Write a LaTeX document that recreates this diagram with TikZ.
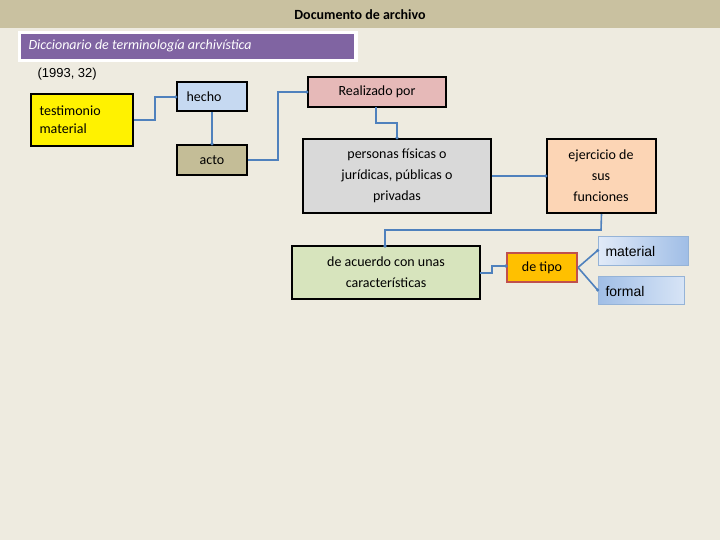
\documentclass[tikz,border=0pt]{standalone}
\usepackage{fontspec}
\setmainfont{Carlito}
\newfontfamily\arial{Liberation Sans}
\begin{document}
\begin{tikzpicture}[x=1pt,y=-1pt,
 bx/.style={draw=black,line width=2.2pt,inner sep=0pt,align=center,font=\fontsize{14}{18}\selectfont},
 cn/.style={draw=blue!35!gray!90!black,color={rgb,255:red,79;green,129;blue,189},line width=1.6pt},
 dt/.style={circle,fill={rgb,255:red,79;green,129;blue,189},inner sep=1.3pt}]
\definecolor{lb}{RGB}{79,129,189}
\fill[color={rgb,255:red,238;green,235;blue,224}] (0,0) rectangle (720,540);
\fill[color={rgb,255:red,201;green,193;blue,160}] (0,0) rectangle (720,28);
\useasboundingbox (0,0) rectangle (720,540);
\node (title) at (360,15) {\fontsize{14}{16}\selectfont\bfseries Documento de archivo};
\fill[white] (18,31) rectangle (358,62);
\fill[color={rgb,255:red,128;green,100;blue,162}] (21,34) rectangle (354,59);
\node[anchor=west,text=white] (dic) at (25,46) {\fontsize{14}{16}\selectfont\itshape Diccionario de terminología archivística};
\node[anchor=west] (yr) at (34,74) {\arial\fontsize{13}{15}\selectfont (1993, 32)};
\newcommand\bxx[7]{\node[bx,fill={#6},minimum width=#3-#2 pt,minimum height=#5-#4 pt,#7] (#1) at ({(#2+#3)/2},{(#4+#5)/2}) {};}
\bxx{tm}{31}{133}{94}{146}{yellow}{}
\node[anchor=west,align=left,font=\fontsize{14}{18}\selectfont] at (36,120) {testimonio\\material};
\definecolor{c1}{RGB}{198,217,241}\definecolor{c2}{RGB}{196,189,151}\definecolor{c3}{RGB}{230,185,184}
\definecolor{c4}{RGB}{217,217,217}\definecolor{c5}{RGB}{252,213,181}\definecolor{c6}{RGB}{215,228,189}
\bxx{he}{177}{247}{82}{111}{c1}{}
\node[anchor=west,font=\fontsize{14}{18}\selectfont] at (183,97) {hecho};
\bxx{ac}{177}{247}{145}{175}{c2}{}
\node[font=\fontsize{14}{18}\selectfont] at (212,160) {acto};
\bxx{re}{308}{446}{77}{107}{c3}{}
\node[font=\fontsize{14}{18}\selectfont] at (377,92) {Realizado por};
\bxx{pe}{303}{491}{139}{213}{c4}{}
\node[align=center,font=\fontsize{14}{21}\selectfont] at (397,176) {personas físicas o\\jurídicas, públicas o\\privadas};
\bxx{ej}{547}{656}{139}{213}{c5}{}
\node[align=center,font=\fontsize{14}{21}\selectfont] at (601,176) {ejercicio de\\sus\\funciones};
\bxx{de}{292}{480}{246}{299}{c6}{}
\node[align=center,font=\fontsize{14}{21}\selectfont] at (386,272) {de acuerdo con unas\\características};
\node[draw={rgb,255:red,192;green,80;blue,77},line width=2pt,fill={rgb,255:red,255;green,192;blue,0},minimum width=70pt,minimum height=29pt,inner sep=0pt,font=\fontsize{14}{18}\selectfont] (ti) at (542,267.5) {de tipo};
\node[draw={rgb,255:red,149;green,179;blue,215},line width=0.8pt,left color={rgb,255:red,225;green,234;blue,248},right color={rgb,255:red,160;green,190;blue,230},minimum width=90pt,minimum height=29pt,inner sep=0pt] (ma) at (643,250.5) {};
\node[anchor=west,font=\arial\fontsize{14}{16}\selectfont] at (602,251) {material};
\node[draw={rgb,255:red,149;green,179;blue,215},line width=0.8pt,left color={rgb,255:red,160;green,190;blue,230},right color={rgb,255:red,215;green,228;blue,246},minimum width=86pt,minimum height=28pt,inner sep=0pt] (fo) at (641,290) {};
\node[anchor=west,font=\arial\fontsize{14}{16}\selectfont] at (602,291) {formal};
\tikzset{ln/.style={draw=lb,line width=1.6pt}}
\draw[ln] (tm.east) -- (155,120) -- (155,97) -- (he.west|-155,97) node[dt]{};
\draw[ln] (he.south) -- (ac.north) node[dt]{};
\draw[ln] (ac.east) -- (278,160) -- (278,92) -- (re.west) node[dt]{};
\draw[ln] (376,107) -- (376,123) -- (397,123) -- (pe.north) node[dt]{};
\draw[ln] (pe.east) -- (ej.west) node[dt]{};
\draw[ln] (ej.south) -- (601,230) -- (385,230) -- (385,246) node[dt]{};
\draw[ln] (480,273) -- (492,273) -- (492,266) -- (ti.west|-492,266) node[dt]{};
\draw[ln] (ti.east) -- (ma.west) node[dt]{};
\draw[ln] (ti.east) -- (fo.west) node[dt]{};
\end{tikzpicture}
\end{document}
